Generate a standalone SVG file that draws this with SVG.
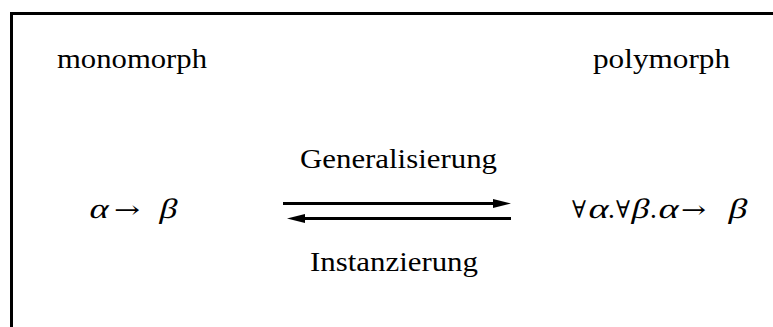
<svg xmlns="http://www.w3.org/2000/svg" width="773" height="327" viewBox="0 0 773 327">
<style>
.t{font-family:"Liberation Serif","Times New Roman",serif;font-size:27px;fill:#000}
.s{font-family:"DejaVu Serif",serif;font-size:24px;fill:#000}
.m{font-family:"Liberation Serif","DejaVu Serif",serif;font-size:28px;font-style:normal;fill:#000}
.c{stroke:#000;stroke-width:3;fill:none}
</style>
<defs>
<marker id="ah" markerUnits="userSpaceOnUse" markerWidth="18" markerHeight="9" refX="0" refY="4.5" orient="auto">
<path d="M0,0 L18,4.5 L0,9 z" fill="#000"/>
</marker>
</defs>
<rect width="773" height="327" fill="#fff"/>
<path d="M11.5,327 V13.5 H773" stroke="#000" stroke-width="3" fill="none"/>
<g id="monomorph">
<text class="t" x="57" y="68" textLength="150" lengthAdjust="spacingAndGlyphs">monomorph</text>
<text class="m" transform="translate(88,218) skewX(-14)" textLength="19" lengthAdjust="spacingAndGlyphs">α</text>
<text class="s" x="114" y="218" textLength="26" lengthAdjust="spacingAndGlyphs">→</text>
<text class="m" transform="translate(158,218) skewX(-14)" textLength="18" lengthAdjust="spacingAndGlyphs">β</text>
</g>
<g id="polymorph">
<text class="t" x="593" y="68" textLength="137" lengthAdjust="spacingAndGlyphs">polymorph</text>
<text class="s" x="572" y="218" textLength="14" lengthAdjust="spacingAndGlyphs">∀</text>
<text class="m" transform="translate(587,218) skewX(-14)" textLength="20" lengthAdjust="spacingAndGlyphs">α</text>
<text class="t" x="608" y="218">.</text>
<text class="s" x="616" y="218" textLength="14" lengthAdjust="spacingAndGlyphs">∀</text>
<text class="m" transform="translate(630,218) skewX(-14)" textLength="18" lengthAdjust="spacingAndGlyphs">β</text>
<text class="t" x="650" y="218">.</text>
<text class="m" transform="translate(657,218) skewX(-14)" textLength="20" lengthAdjust="spacingAndGlyphs">α</text>
<text class="s" x="681" y="218" textLength="25" lengthAdjust="spacingAndGlyphs">→</text>
<text class="m" transform="translate(727,218) skewX(-14)" textLength="19" lengthAdjust="spacingAndGlyphs">β</text>
</g>
<g id="connectors">
<line class="c" x1="283" y1="203.5" x2="493" y2="203.5" marker-end="url(#ah)"/>
<line class="c" x1="511" y1="218.5" x2="305" y2="218.5" marker-end="url(#ah)"/>
<text class="t" x="300" y="168" textLength="197" lengthAdjust="spacingAndGlyphs">Generalisierung</text>
<text class="t" x="310" y="271" textLength="168" lengthAdjust="spacingAndGlyphs">Instanzierung</text>
</g>
</svg>
